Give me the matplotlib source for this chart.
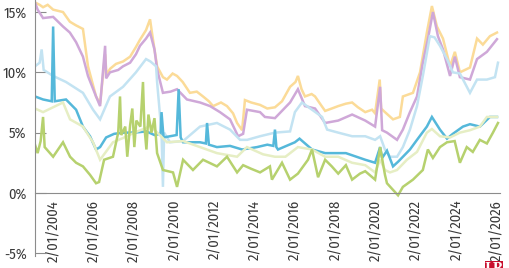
import matplotlib
matplotlib.use("Agg")
import matplotlib.pyplot as plt
from matplotlib.patches import Rectangle

plt.rcParams['font.family'] = ['Fira Sans Condensed', 'Sofia Sans Condensed', 'DejaVu Sans']

# ---- datos (años decimales, %) ----
naranja_x = [2003.07, 2003.3, 2003.47, 2003.7, 2003.97, 2004.46, 2004.8, 2005.1, 2005.45, 2005.7,
             2006.1, 2006.3, 2006.55, 2006.62, 2006.8, 2007.09, 2007.44, 2007.79, 2008.08, 2008.28,
             2008.58, 2008.78, 2008.9, 2009.13, 2009.42, 2009.62, 2009.9, 2010.12, 2010.4, 2010.76,
             2011.1, 2011.41, 2011.7, 2011.91, 2012.3, 2012.6, 2012.9, 2013.1, 2013.35, 2013.49,
             2013.8, 2014.24, 2014.6, 2014.98, 2015.33, 2015.73, 2016.0, 2016.12, 2016.3, 2016.47,
             2016.8, 2016.97, 2017.3, 2017.47, 2017.8, 2018.12, 2018.5, 2018.81, 2019.1, 2019.46,
             2019.8, 2019.95, 2020.18, 2020.25, 2020.44, 2020.84, 2021.18, 2021.33, 2021.83, 2022.18,
             2022.52, 2022.77, 2023.02, 2023.32, 2023.67, 2023.91, 2024.16, 2024.66, 2025.01, 2025.3,
             2025.65, 2026.0]
naranja = [15.8, 15.6, 15.4, 15.6, 15.2, 15.0, 14.2, 13.9, 13.6, 10.5,
           8.0, 7.4, 11.5, 9.8, 10.3, 10.7, 10.9, 11.3, 12.1, 12.7,
           13.5, 14.4, 13.0, 10.5, 9.6, 9.4, 9.9, 9.7, 9.2, 8.3,
           8.4, 8.0, 7.6, 7.2, 7.5, 7.2, 6.6, 5.8, 5.2, 7.7,
           7.5, 7.3, 7.0, 7.1, 7.6, 8.8, 9.2, 9.7, 8.6, 8.0,
           8.2, 8.0, 7.2, 6.8, 7.0, 7.2, 7.4, 7.5, 7.1, 6.7,
           6.9, 6.6, 9.4, 7.0, 6.7, 6.1, 6.3, 8.0, 8.3, 10.0,
           13.3, 15.5, 13.8, 12.8, 10.5, 11.7, 10.0, 10.4, 12.8, 12.3,
           13.0, 13.3]

morado_x = [2003.07, 2003.2, 2003.47, 2003.97, 2004.46, 2004.8, 2005.11, 2005.45, 2005.7, 2006.1,
            2006.3, 2006.55, 2006.6, 2006.79, 2007.2, 2007.44, 2007.79, 2008.08, 2008.28, 2008.58,
            2008.78, 2009.0, 2009.13, 2009.42, 2009.8, 2010.12, 2010.61, 2011.26, 2011.76, 2012.25,
            2012.75, 2013.15, 2013.4, 2013.59, 2014.24, 2014.48, 2014.98, 2015.73, 2016.12, 2016.47,
            2016.97, 2017.47, 2018.12, 2018.81, 2019.46, 2019.95, 2020.2, 2020.3, 2020.54, 2021.04,
            2021.33, 2021.68, 2022.03, 2022.32, 2022.57, 2022.82, 2023.07, 2023.32, 2023.67, 2023.91,
            2024.16, 2024.66, 2025.01, 2025.5, 2026.0]
morado = [15.8, 15.2, 14.5, 14.6, 13.8, 13.3, 12.5, 11.3, 9.7, 8.0,
          7.2, 12.2, 9.5, 10.0, 10.2, 10.5, 10.8, 11.5, 12.2, 12.8,
          13.3, 11.9, 10.25, 8.3, 8.4, 8.6, 7.75, 7.5, 7.2, 6.7,
          6.1, 4.7, 4.9, 6.9, 6.7, 6.3, 6.2, 7.5, 8.6, 7.2,
          7.0, 5.8, 6.0, 6.5, 6.0, 5.5, 8.8, 5.2, 5.0, 4.4,
          5.25, 6.7, 8.0, 10.8, 12.75, 15.0, 13.0, 11.9, 9.7, 11.3,
          9.6, 9.4, 11.1, 11.7, 12.75]

celeste_x = [2003.07, 2003.3, 2003.4, 2003.5, 2003.97, 2004.61, 2005.45, 2005.95, 2006.3, 2006.79,
             2007.44, 2008.08, 2008.58, 2008.8, 2009.08, 2009.13, 2009.35, 2009.42, 2009.48, 2009.77,
             2010.42, 2011.26, 2012.1, 2012.75, 2013.25, 2013.6, 2014.24, 2014.98, 2015.73, 2015.97,
             2016.32, 2016.82, 2017.32, 2017.57, 2018.12, 2018.81, 2019.46, 2019.95, 2020.2, 2020.44,
             2020.69, 2021.04, 2021.33, 2021.68, 2022.03, 2022.32, 2022.67, 2022.9, 2023.17, 2023.52,
             2023.81, 2024.16, 2024.66, 2025.01, 2025.5, 2025.9, 2026.05]
celeste = [10.5, 10.8, 11.9, 10.2, 9.7, 9.2, 8.3, 6.9, 6.1, 8.0,
           8.8, 10.0, 11.1, 10.9, 10.5, 9.2, 5.0, 0.5, 5.0, 4.2,
           4.3, 5.5, 5.8, 5.25, 4.4, 4.4, 4.7, 5.0, 5.1, 6.7,
           7.5, 6.9, 6.3, 5.25, 5.0, 4.7, 4.7, 4.4, 4.7, 3.6,
           3.0, 3.0, 3.8, 5.25, 7.2, 9.7, 13.0, 12.9, 12.2, 11.1,
           10.0, 9.9, 8.3, 9.4, 9.4, 9.6, 10.8]

azul_x = [2003.07, 2003.47, 2003.9, 2003.97, 2004.05, 2004.61, 2005.11, 2005.45, 2005.8, 2006.1,
          2006.3, 2006.6, 2007.0, 2007.5, 2008.0, 2008.6, 2009.0, 2009.3, 2009.35, 2009.45,
          2010.1, 2010.2, 2010.3, 2010.42, 2011.26, 2011.55, 2011.61, 2011.7, 2012.1, 2012.75,
          2013.35, 2014.09, 2014.6, 2014.9, 2014.98, 2015.05, 2015.13, 2015.97, 2016.2, 2016.82,
          2017.47, 2018.5, 2019.46, 2019.95, 2020.2, 2020.3, 2020.54, 2020.84, 2021.1, 2021.68,
          2022.03, 2022.52, 2022.77, 2023.17, 2023.52, 2023.81, 2024.31, 2024.66, 2025.15, 2025.65,
          2026.0]
azul = [8.0, 7.75, 7.6, 13.8, 7.6, 7.75, 6.9, 5.5, 4.7, 3.6,
        3.8, 4.6, 4.9, 5.0, 5.0, 5.1, 4.8, 4.9, 6.7, 4.6,
        4.8, 8.6, 4.6, 4.2, 4.2, 4.1, 5.8, 4.0, 3.8, 3.9,
        3.6, 3.8, 4.0, 3.9, 5.25, 3.8, 3.6, 4.2, 4.5, 3.6,
        3.3, 3.3, 2.75, 2.5, 3.8, 2.9, 3.5, 2.2, 2.6, 3.6,
        4.4, 5.5, 6.3, 5.25, 4.5, 4.9, 5.5, 5.7, 5.5, 6.3,
        6.3]

verde_claro_x = [2003.07, 2003.47, 2004.46, 2004.81, 2005.45, 2005.95, 2006.3, 2006.94, 2007.5, 2008.0,
                 2008.6, 2008.78, 2009.62, 2010.42, 2011.26, 2012.1, 2013.1, 2013.59, 2014.39, 2014.98,
                 2015.5, 2016.12, 2016.82, 2017.47, 2018.12, 2018.81, 2019.46, 2019.95, 2020.2, 2020.44,
                 2020.69, 2021.04, 2021.53, 2022.03, 2022.52, 2022.77, 2023.17, 2023.67, 2024.16, 2024.66,
                 2025.15, 2025.5, 2026.0]
verde_claro = [7.0, 6.7, 7.5, 6.1, 5.5, 4.2, 2.75, 4.2, 4.6, 5.0,
               5.4, 5.6, 4.2, 4.3, 3.8, 3.3, 3.0, 3.8, 3.2, 3.0,
               3.0, 3.8, 3.6, 3.0, 3.0, 2.5, 2.3, 1.7, 2.75, 1.9,
               1.7, 1.9, 2.75, 3.4, 5.0, 5.3, 4.7, 4.6, 5.0, 5.2,
               5.5, 6.3, 6.3]

verde_x = [2003.07, 2003.2, 2003.35, 2003.47, 2003.55, 2003.97, 2004.46, 2004.81, 2005.11, 2005.45,
           2005.8, 2006.1, 2006.25, 2006.5, 2006.94, 2007.2, 2007.29, 2007.35, 2007.55, 2007.65,
           2007.79, 2007.9, 2008.0, 2008.1, 2008.3, 2008.43, 2008.5, 2008.6, 2008.7, 2008.85,
           2009.0, 2009.13, 2009.42, 2009.92, 2010.12, 2010.42, 2010.91, 2011.41, 2012.1, 2012.6,
           2013.1, 2013.4, 2013.8, 2014.24, 2014.73, 2014.83, 2015.33, 2015.73, 2016.12, 2016.62,
           2016.82, 2017.12, 2017.47, 2017.8, 2018.12, 2018.5, 2018.81, 2019.2, 2019.46, 2019.95,
           2020.2, 2020.44, 2020.54, 2020.84, 2021.09, 2021.33, 2021.83, 2022.32, 2022.57, 2022.82,
           2023.17, 2023.52, 2023.9, 2024.16, 2024.5, 2024.8, 2025.15, 2025.5, 2025.8, 2026.05]
verde = [4.0, 3.3, 4.3, 6.3, 3.8, 3.0, 4.2, 3.0, 2.5, 2.2,
         1.5, 0.8, 0.9, 2.75, 3.0, 5.0, 8.0, 4.8, 5.5, 3.0,
         5.6, 7.0, 3.8, 6.0, 5.5, 9.2, 5.5, 3.6, 6.5, 5.0,
         6.2, 3.3, 1.9, 1.7, 0.5, 2.75, 1.9, 2.75, 2.2, 3.0,
         1.7, 2.3, 2.0, 1.7, 2.2, 1.1, 2.5, 1.1, 1.6, 2.75,
         3.6, 1.3, 2.75, 2.2, 1.6, 2.3, 1.1, 1.6, 1.8, 1.1,
         3.8, 1.5, 0.8, 0.25, -0.2, 0.5, 1.1, 1.9, 3.6, 2.9,
         3.8, 4.2, 4.3, 2.5, 3.8, 3.4, 4.4, 4.1, 5.0, 5.8]

anios = list(range(2004, 2027, 2))
etiquetas_x = [f"2/01/{a}" for a in anios]
y_ticks = [-5, 0, 5, 10, 15]
etiquetas_y = ["-5%", "0%", "5%", "10%", "15%"]

# ---- gráfico ----
fig = plt.figure(figsize=(5.1, 2.68), dpi=100)
ax = fig.add_axes([35 / 510, 1 - 255.6 / 268, 465 / 510, 255.6 / 268])

series = [
    (naranja_x, naranja, '#fbdb98'),
    (morado_x, morado, '#cfa8d8'),
    (celeste_x, celeste, '#c3e3f2'),
    (azul_x, azul, '#55b8da'),
    (verde_claro_x, verde_claro, '#e6eec4'),
    (verde_x, verde, '#b6d16e'),
]
for xs, ys, c in series:
    ax.plot(xs, ys, color=c, lw=1.8, solid_joinstyle='miter')

ax.set_xlim(2003.07, 2026.15)
ax.set_ylim(-5.2, 16)

gris = '#8c8c8c'
texto = '#3a3a3a'
for s in ['top', 'right']:
    ax.spines[s].set_visible(False)
ax.spines['left'].set_color(gris)
ax.spines['bottom'].set_position(('data', 0))
ax.spines['bottom'].set_color(gris)

ax.set_yticks(y_ticks)
ax.set_yticklabels(etiquetas_y)
ax.tick_params(axis='y', direction='in', length=8, color=gris, labelsize=10.5,
               labelcolor=texto, pad=6)
ax.set_xticks([a + 0.003 for a in anios])
ax.set_xticklabels(etiquetas_x, rotation=90)
ax.tick_params(axis='x', length=0, labelsize=10.5, labelcolor=texto, pad=5)

# logo
fig.patches.append(Rectangle((485 / 510, 0), 18 / 510, 7 / 268, transform=fig.transFigure,
                             facecolor='#c8102e', edgecolor='none'))
fig.text(494 / 510, 6 / 268, "LR", color='white', fontsize=9, fontweight='bold',
         ha='center', va='top', family='DejaVu Serif')

fig.savefig("out.png", dpi=100)
